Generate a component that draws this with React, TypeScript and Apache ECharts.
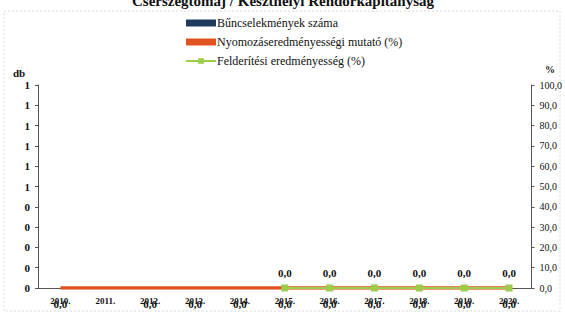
import React, { useEffect, useRef } from "react";
import * as echarts from "echarts";

const years = ["2010.", "2011.", "2012.", "2013.", "2014.", "2015.", "2016.", "2017.", "2018.", "2019.", "2020."];
const crimes = [0, 0, 0, 0, 0, 0, 0, 0, 0, 0, 0];
const investigation = [0, 0, 0, 0, 0, 0, 0, 0, 0, 0, 0];
const detection = [null, null, null, null, null, 0, 0, 0, 0, 0, 0];
const investigationLabelShown = [true, false, true, true, true, true, true, true, true, true, true];

const SERIF = "serif";
const fmtComma = (v: number) => v.toFixed(1).replace(".", ",");

export default function App() {
  const ref = useRef<HTMLDivElement>(null);
  useEffect(() => {
    if (!ref.current) return;
    const chart = echarts.init(ref.current, undefined, { renderer: "svg" });
    chart.setOption({
      animation: false,
      backgroundColor: "#ffffff",
      textStyle: { fontFamily: SERIF },
      graphic: [
        {
          type: "rect",
          shape: { x: 4, y: 11, width: 556, height: 300 },
          style: { fill: "none", stroke: "#dcdcdc", lineWidth: 1, lineDash: [2, 2] },
          silent: true,
        },
        {
          type: "text",
          x: 283,
          y: -7,
          style: {
            text: "Cserszegtomaj / Keszthelyi Rendőrkapitányság",
            fontFamily: SERIF,
            fontSize: 15,
            fontWeight: "bold",
            fill: "#111",
            align: "center",
            verticalAlign: "top",
          },
        },
        {
          type: "text",
          x: 13,
          y: 67,
          style: { text: "db", fontFamily: SERIF, fontSize: 11, fontWeight: "bold", fill: "#111" },
        },
        {
          type: "text",
          x: 545,
          y: 64,
          style: { text: "%", fontFamily: SERIF, fontSize: 10, fontWeight: "bold", fill: "#111" },
        },
      ],
      legend: {
        orient: "vertical",
        left: 180,
        top: 12,
        itemGap: 7,
        itemWidth: 30,
        itemHeight: 7,
        textStyle: { fontFamily: SERIF, fontSize: 12, color: "#111", padding: [0, 0, 0, -4] },
        data: [
          { name: "Bűncselekmények száma", icon: "rect" },
          { name: "Nyomozáseredményességi mutató (%)", icon: "path://M0,0h30v7h-30z" },
          { name: "Felderítési eredményesség (%)" },
        ],
      },
      grid: { left: 38, right: 32, top: 85, bottom: 28 },
      xAxis: {
        type: "category",
        data: years,
        boundaryGap: true,
        axisLine: { lineStyle: { color: "#555", width: 1 } },
        axisTick: { show: false },
        axisLabel: {
          interval: 0,
          fontFamily: SERIF,
          fontSize: 9,
          fontWeight: "bold",
          color: "#111",
          margin: 8,
        },
      },
      yAxis: [
        {
          type: "value",
          min: 0,
          max: 1,
          interval: 0.1,
          splitLine: { show: false },
          axisLine: { show: true, lineStyle: { color: "#555" } },
          axisTick: { show: true, length: 3, lineStyle: { color: "#555" } },
          axisLabel: {
            fontFamily: SERIF,
            fontSize: 11,
            fontWeight: "bold",
            color: "#111",
            margin: 8,
            formatter: (v: number) => String(Math.round(v + 1e-9)),
          },
        },
        {
          type: "value",
          min: 0,
          max: 100,
          interval: 10,
          position: "right",
          splitLine: { show: false },
          axisLine: { show: true, lineStyle: { color: "#555" } },
          axisTick: { show: true, length: 3, lineStyle: { color: "#555" } },
          axisLabel: {
            fontFamily: SERIF,
            fontSize: 10,
            color: "#111",
            margin: 8,
            formatter: (v: number) => fmtComma(v),
          },
        },
      ],
      series: [
        {
          name: "Bűncselekmények száma",
          type: "bar",
          yAxisIndex: 0,
          data: crimes,
          barWidth: "50%",
          itemStyle: { color: "#1f3a5a" },
        },
        {
          name: "Nyomozáseredményességi mutató (%)",
          type: "line",
          yAxisIndex: 1,
          data: investigation.map((v, i) => ({
            value: v,
            label: { show: investigationLabelShown[i] },
          })),
          symbol: "circle",
          symbolSize: 0.01,
          lineStyle: { color: "#e0521f", width: 3.5 },
          itemStyle: { color: "#e0521f" },
          z: 3,
          label: {
            show: true,
            position: "bottom",
            distance: 10,
            fontFamily: SERIF,
            fontSize: 11,
            fontWeight: "bold",
            color: "#111",
            formatter: (p: any) => fmtComma(p.value),
          },
        },
        {
          name: "Felderítési eredményesség (%)",
          type: "line",
          yAxisIndex: 1,
          data: detection,
          symbol: "rect",
          symbolSize: 7,
          lineStyle: { color: "#9ccc4a", width: 2 },
          itemStyle: { color: "#9ccc4a" },
          z: 4,
          label: {
            show: true,
            position: "top",
            distance: 6,
            fontFamily: SERIF,
            fontSize: 11,
            fontWeight: "bold",
            color: "#111",
            formatter: (p: any) => fmtComma(p.value),
          },
        },
      ],
    });
    return () => chart.dispose();
  }, []);
  return <div ref={ref} style={{ width: 565, height: 316, position: "absolute", left: 0, top: 0 }} />;
}
